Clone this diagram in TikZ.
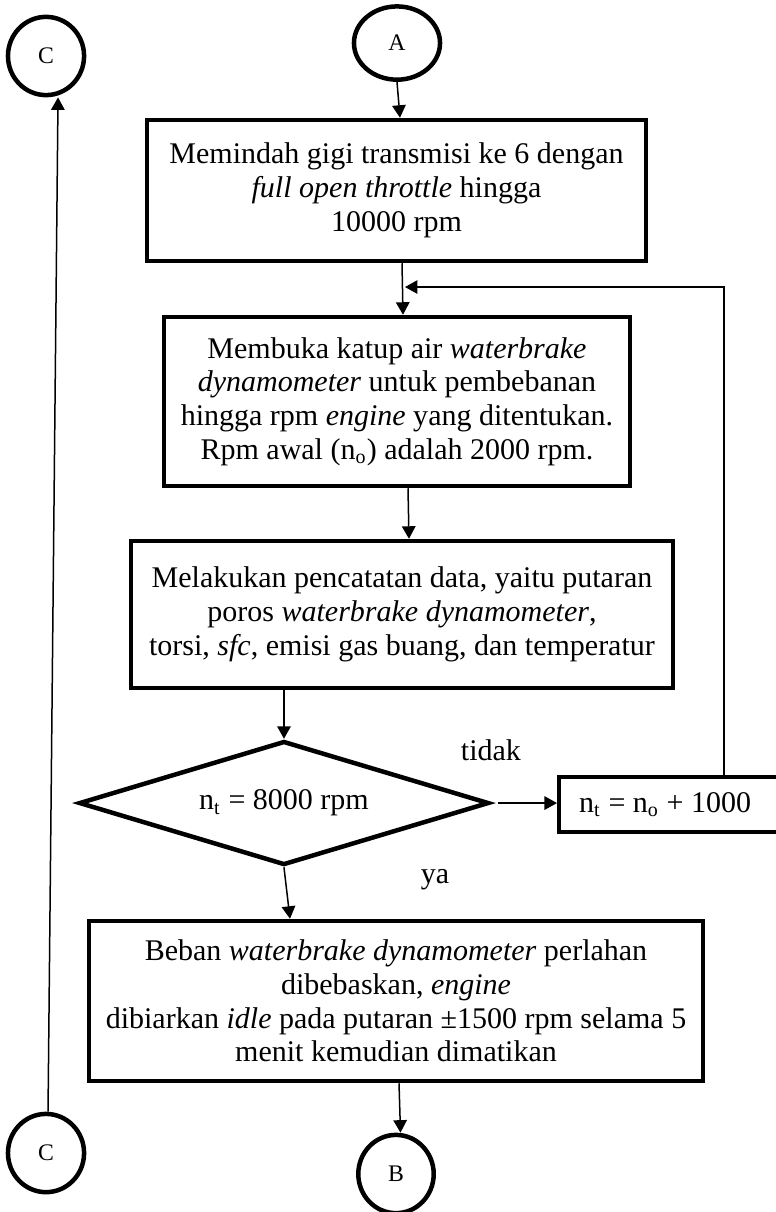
\documentclass[tikz,border=0pt]{standalone}
\usepackage{fontspec}
\setmainfont{Liberation Serif}
\usepackage{tikz}
\usetikzlibrary{positioning,arrows.meta,shapes.geometric}
\tikzset{
  stepbox/.style={rectangle,draw=black,line width=1.8pt,align=center,inner sep=0pt},
  decide/.style={diamond,draw=black,line width=1.8pt,inner sep=0pt,aspect=3.3},
  conn/.style={ellipse,draw=black,line width=1.8pt,inner sep=0pt,font=\fontsize{9.5}{10}\selectfont},
  edge/.style={-{Triangle[length=5pt,width=5.4pt]},line width=0.6pt}
}

\begin{document}
\begin{tikzpicture}[font=\fontsize{12}{13.5}\selectfont]
  \useasboundingbox (0,0) rectangle (10.895,-17.038);

  % connectors
  \node[conn,minimum width=1.07cm,minimum height=1.10cm] (Ctop) at (0.647,-0.787) {C};
  \node[conn,minimum width=1.07cm,minimum height=1.10cm] (Cbot) at (0.647,-16.209) {C};
  \node[conn,minimum width=1.21cm,minimum height=1.03cm] (A) at (5.581,-0.605) {A};
  \node[conn,minimum width=1.06cm,minimum height=1.10cm] (B) at (5.567,-16.504) {B};

  % steps
  \node[stepbox,minimum width=7.015cm,minimum height=1.982cm] (gear) at (5.574,-2.678)
    {Memindah gigi transmisi ke 6 dengan\\ \textit{full open throttle} hingga\\ 10000 rpm};
  \node[stepbox,minimum width=6.551cm,minimum height=2.376cm] (load) at (5.581,-5.644)
    {Membuka katup air \textit{waterbrake}\\ \textit{dynamometer} untuk pembebanan\\
     hingga rpm \textit{engine} yang ditentukan.\\ Rpm awal (n\textsubscript{o}) adalah 2000 rpm.};
  \node[stepbox,minimum width=7.619cm,minimum height=2.067cm] (record) at (5.651,-8.639)
    {Melakukan pencatatan data, yaitu putaran\\ poros \textit{waterbrake dynamometer},\\
     torsi, \textit{sfc}, emisi gas buang, dan temperatur};
  \node[decide,minimum width=5.764cm,minimum height=1.743cm] (check) at (3.992,-11.289)
    {n\textsubscript{t} = 8000 rpm};
  \node[stepbox,anchor=west,minimum height=0.773cm,inner xsep=0.281cm]
    (incr) at (7.830,-11.310) {n\textsubscript{t} = n\textsubscript{o} + 1000\hspace{1.2cm}};
  \node[stepbox,minimum width=8.632cm,minimum height=2.249cm] (release) at (5.567,-14.072)
    {Beban \textit{waterbrake dynamometer} perlahan\\ dibebaskan, \textit{engine}\\
     dibiarkan \textit{idle} pada putaran ±1500 rpm selama 5\\ menit kemudian dimatikan};

  \node (no) at (6.902,-10.544) {tidak};
  \node (yes) at (6.115,-12.371) {ya};

  \coordinate (back) at (10.178,-4.035);
  \coordinate (join) at (5.693,-4.035);

  \draw[edge] (A.south) -- ([xshift=1.4pt]gear.north);
  \draw[edge] ([xshift=2.2pt]gear.south) -- ([xshift=2.4pt]load.north);
  \draw[edge] ([xshift=4.4pt]load.south) -- ([xshift=2.8pt]record.north);
  \draw[edge] (record.south -| check.north) -- (check.north);
  \draw[edge,shorten <=2.8pt] (check.east) -- (check.east -| incr.west);
  \draw[edge] (incr.north -| back) -- (back) -- (join);
  \draw[edge] (check.south) -- ([xshift=-42.4pt]release.north);
  \draw[edge] ([xshift=1.2pt]release.south) -- ([xshift=1.8pt]B.north);
  \draw[edge] ([xshift=0.8pt]Cbot.north) -- ([xshift=4.8pt]Ctop.south);
\end{tikzpicture}
\end{document}
